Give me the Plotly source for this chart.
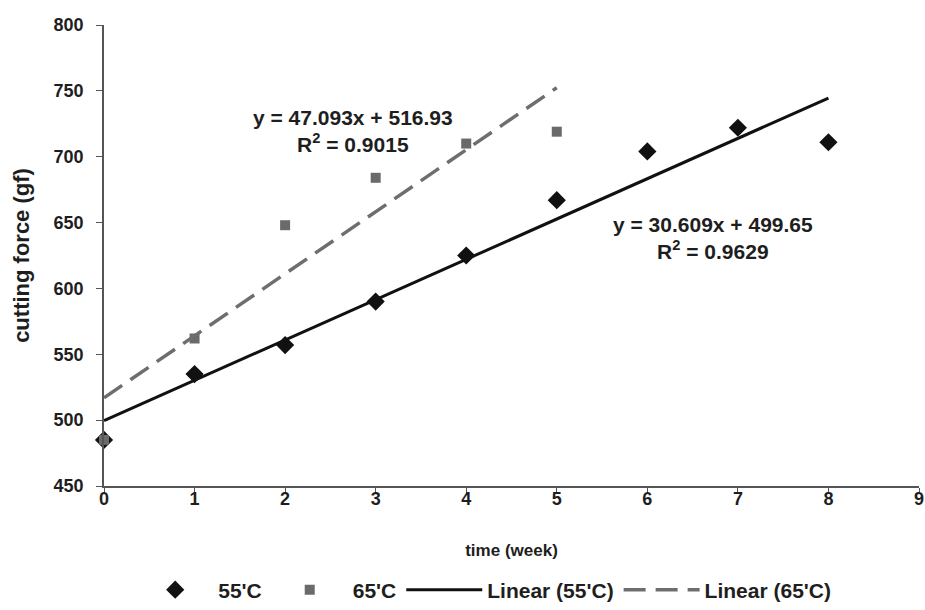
import plotly.graph_objects as go

weeks_55 = [0, 1, 2, 3, 4, 5, 6, 7, 8]
force_55 = [485, 535, 557, 590, 625, 667, 704, 722, 711]
weeks_65 = [0, 1, 2, 3, 4, 5]
force_65 = [485, 562, 648, 684, 710, 719]

fit_55 = {"slope": 30.609, "intercept": 499.65, "r2": 0.9629, "x": [0, 8]}
fit_65 = {"slope": 47.093, "intercept": 516.93, "r2": 0.9015, "x": [0, 5]}

x_ticks = list(range(0, 10))
y_ticks = list(range(450, 801, 50))

FONT = "Liberation Sans, Arial, sans-serif"
TXT = "#1e1e1e"

def line_y(fit):
    return [fit["slope"] * x + fit["intercept"] for x in fit["x"]]

fig = go.Figure()
fig.add_trace(go.Scatter(
    x=weeks_55, y=force_55, mode="markers", name="55'C", cliponaxis=False,
    marker=dict(symbol="diamond", size=14, color="#111111"),
))
fig.add_trace(go.Scatter(
    x=weeks_65, y=force_65, mode="markers", name="65'C", cliponaxis=False,
    marker=dict(symbol="square", size=10, color="#6a6a6a"),
))
fig.add_trace(go.Scatter(
    x=fit_55["x"], y=line_y(fit_55), mode="lines", name="Linear (55'C)",
    line=dict(color="#111111", width=3),
))
fig.add_trace(go.Scatter(
    x=fit_65["x"], y=line_y(fit_65), mode="lines", name="Linear (65'C)",
    line=dict(color="#6e6e6e", width=3.5, dash="22px,10px"),
))

def eq_text(fit):
    return (f"y = {fit['slope']:.3f}x + {fit['intercept']:.2f}<br>"
            f"R<sup>2</sup> = {fit['r2']:.4f}")

ann_font = dict(family=FONT, size=21, color=TXT, weight="bold")
fig.add_annotation(x=2.75, y=719.5, text=eq_text(fit_65), showarrow=False,
                   font=ann_font, align="center")
fig.add_annotation(x=6.72, y=638, text=eq_text(fit_55), showarrow=False,
                   font=ann_font, align="center")

fig.update_layout(
    width=925, height=610,
    margin=dict(l=104, r=6, t=25, b=124),
    paper_bgcolor="white", plot_bgcolor="white",
    font=dict(family=FONT, size=17, color=TXT, weight="bold"),
    showlegend=True,
    legend=dict(orientation="h", x=0.4665, xanchor="center",
                yref="container", y=1 - 590 / 610, yanchor="middle",
                font=dict(family=FONT, size=21, color=TXT, weight="bold"),
                itemwidth=76, traceorder="normal"),
)
tick_font = dict(family=FONT, size=18, color=TXT, weight="bold")
fig.update_xaxes(
    range=[0, 9], tickvals=x_ticks, ticks="outside", ticklen=6, tickcolor="#555555",
    showline=True, linecolor="#555555", linewidth=1.5, showgrid=False, zeroline=False,
    tickfont=tick_font, ticklabelstandoff=-10, automargin=False,
    title=dict(text="time (week)", font=dict(family=FONT, size=17, color=TXT, weight="bold"),
               standoff=36),
)
fig.update_yaxes(
    range=[450, 800], tickvals=y_ticks, ticks="outside", ticklen=6, tickcolor="#555555",
    showline=True, linecolor="#555555", linewidth=1.5, showgrid=False, zeroline=False,
    tickfont=tick_font, ticklabelstandoff=9, automargin=False,
    title=dict(text="cutting force (gf)", font=dict(family=FONT, size=22, color=TXT, weight="bold"),
               standoff=18),
)

fig.write_html("out.html", config={"displayModeBar": False},
               post_script="document.body.style.margin='0';")
